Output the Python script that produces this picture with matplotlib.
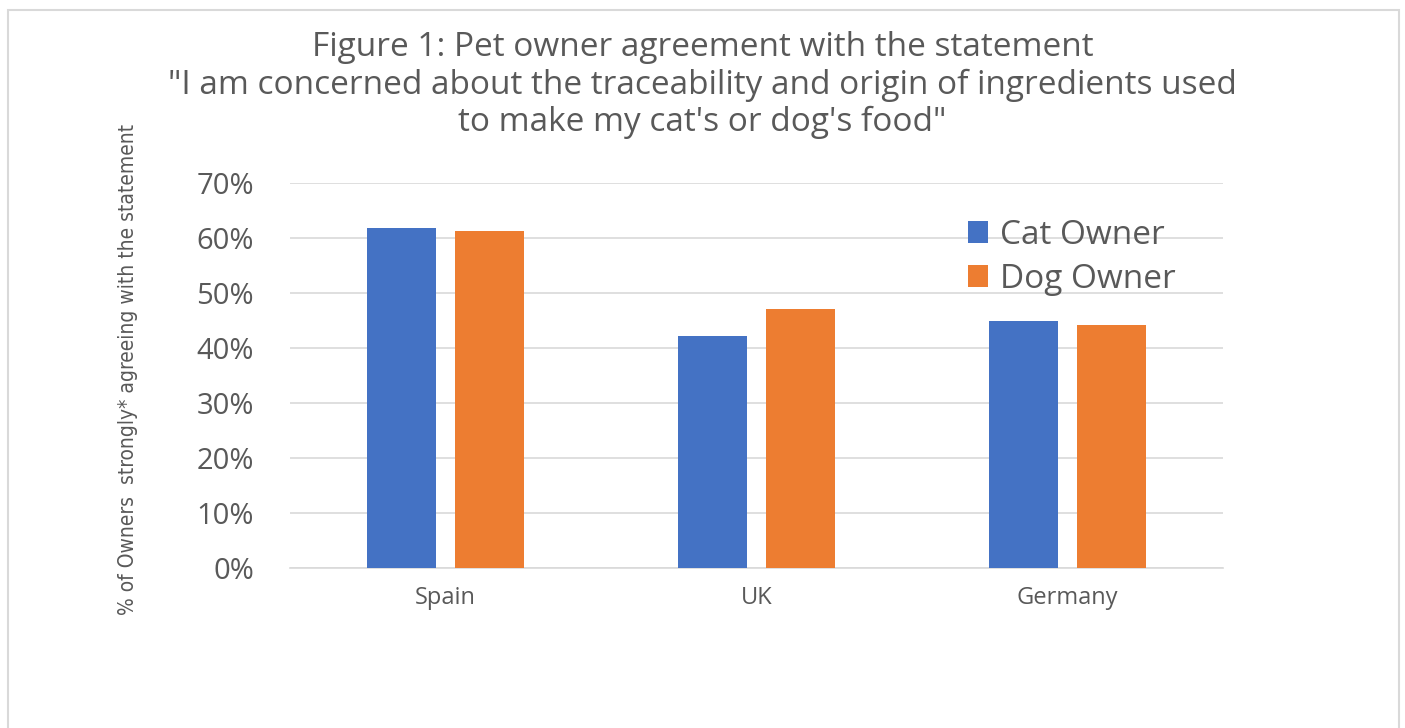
import numpy as np
import matplotlib.pyplot as plt
from matplotlib.patches import Rectangle

countries = ['Spain', 'UK', 'Germany']
cat_owner = [61.8, 42.2, 44.9]
dog_owner = [61.2, 47.1, 44.2]

blue = '#4472C4'
orange = '#ED7D31'
grey = '#595959'

plt.rcParams['font.family'] = ['Open Sans', 'DejaVu Sans']

fig = plt.figure(figsize=(14.05, 7.28), dpi=100)
W, H = 1405, 728
ax = fig.add_axes([290 / W, 1 - 568 / H, (1223 - 290) / W, (568 - 183) / H])

# outer chart frame
fig.patches.append(Rectangle((8 / W, -0.01), (1399 - 8) / W, 1 - 10 / H + 0.01,
                             transform=fig.transFigure, fill=False,
                             edgecolor='#D9D9D9', linewidth=1.5))

x = np.arange(len(countries))
w = 0.225
off = 0.1415
ax.bar(x - off, cat_owner, w, color=blue, label='Cat Owner', zorder=3)
ax.bar(x + off, dog_owner, w, color=orange, label='Dog Owner', zorder=3)

ax.set_xlim(-0.5, 2.5)
ax.set_ylim(0, 70)
ax.set_yticks(np.arange(0, 71, 10))
ax.set_yticklabels([f'{v}%' for v in range(0, 71, 10)], fontsize=21, color=grey)
ax.set_xticks(x)
ax.set_xticklabels(countries, fontsize=17, color=grey)
ax.tick_params(axis='both', length=0)
ax.tick_params(axis='y', pad=26)
ax.tick_params(axis='x', pad=13)
ax.grid(axis='y', color='#D9D9D9', linewidth=1.2, zorder=0)
for s in ['top', 'right', 'left']:
    ax.spines[s].set_visible(False)
ax.spines['bottom'].set_color('#D9D9D9')
ax.spines['bottom'].set_linewidth(1.2)

ax.set_ylabel("% of Owners  strongly* agreeing with the statement",
              family=['DejaVu Sans'], fontstretch='condensed',
              fontsize=15, color=grey)
ax.yaxis.set_label_coords(-0.163, 0.517)

fig.text(0.5, 1 - 85 / H,
         'Figure 1: Pet owner agreement with the statement\n'
         '"I am concerned about the traceability and origin of ingredients used\n'
         'to make my cat\'s or dog\'s food"',
         ha='center', va='center', fontsize=24, color=grey, linespacing=1.18)

leg = ax.legend(loc='upper left', bbox_to_anchor=(0.727, 0.907), frameon=False,
                fontsize=24, handlelength=0.6, handleheight=0.6, borderpad=0,
                borderaxespad=0, handletextpad=0.36, labelspacing=0.33)
for t in leg.get_texts():
    t.set_color(grey)

fig.savefig('out.png', dpi=100)
